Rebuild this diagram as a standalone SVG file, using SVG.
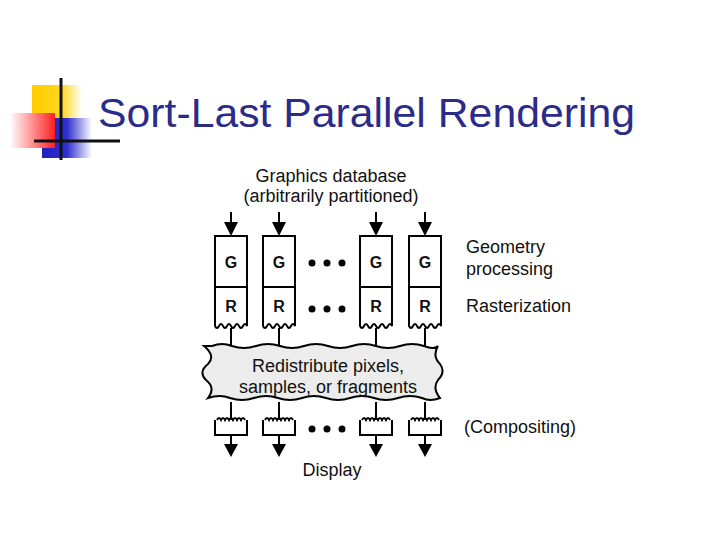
<svg xmlns="http://www.w3.org/2000/svg" width="720" height="540" viewBox="0 0 720 540">
<defs>
<linearGradient id="rg" x1="1" y1="0" x2="0" y2="0"><stop offset="0" stop-color="#ff2020"/><stop offset="1" stop-color="#ffffff"/></linearGradient>
<linearGradient id="bg" x1="0" y1="0" x2="1" y2="0"><stop offset="0" stop-color="#2020c0"/><stop offset="0.5" stop-color="#3030d0"/><stop offset="1" stop-color="#ffffff"/></linearGradient>
<linearGradient id="yg" x1="0" y1="0" x2="1" y2="0"><stop offset="0" stop-color="#ffcc00"/><stop offset="0.6" stop-color="#ffd820"/><stop offset="1" stop-color="#ffffff"/></linearGradient>
</defs>
<style>
.t{font-family:"Liberation Sans",Arial,sans-serif;fill:#111;font-size:18px}
.b{font-family:"Liberation Sans",Arial,sans-serif;font-weight:bold;fill:#111;font-size:16px;text-anchor:middle}
.box{fill:#fff;stroke:#000;stroke-width:2}
.ln{stroke:#000;stroke-width:2;fill:none}
.ar{fill:#000}
</style>
<g id="logo">
<rect x="32" y="85" width="50" height="45" fill="url(#yg)"/>
<rect x="42" y="118" width="50" height="40" fill="url(#bg)"/>
<rect x="10" y="113" width="45" height="35" fill="url(#rg)"/>
<line x1="61" y1="78" x2="61" y2="160" stroke="#111" stroke-width="3"/>
<line x1="34" y1="141" x2="120" y2="141" stroke="#111" stroke-width="3"/>
</g>
<text id="title" x="98" y="127" font-family="'Liberation Sans',Arial,sans-serif" font-size="40" textLength="537" lengthAdjust="spacingAndGlyphs" fill="#2b2b8a">Sort-Last Parallel Rendering</text>
<g id="labels">
<text class="t" x="331" y="182" text-anchor="middle">Graphics database</text>
<text class="t" x="331" y="202" text-anchor="middle">(arbitrarily partitioned)</text>
<text class="t" x="466" y="253">Geometry</text>
<text class="t" x="466" y="275">processing</text>
<text class="t" x="466" y="312">Rasterization</text>
<text class="t" x="464" y="433">(Compositing)</text>
<text class="t" x="332" y="476" text-anchor="middle">Display</text>
</g>
<g id="connectors">
<g class="ar">
<path d="M231,212 V224" class="ln"/><path d="M224,222 h14 l-7,14 z"/>
<path d="M279,212 V224" class="ln"/><path d="M272,222 h14 l-7,14 z"/>
<path d="M376,212 V224" class="ln"/><path d="M369,222 h14 l-7,14 z"/>
<path d="M425,212 V224" class="ln"/><path d="M418,222 h14 l-7,14 z"/>
</g>
<path class="ln" d="M231,328 V346 M279,328 V346 M376,328 V346 M425,328 V346"/>
<path class="ln" d="M231,402 V420 M279,402 V420 M376,402 V420 M425,402 V420"/>
<g class="ar">
<path class="ln" d="M231,434 V446"/><path d="M224,444 h14 l-7,13 z"/>
<path class="ln" d="M279,434 V446"/><path d="M272,444 h14 l-7,13 z"/>
<path class="ln" d="M376,434 V446"/><path d="M369,444 h14 l-7,13 z"/>
<path class="ln" d="M425,434 V446"/><path d="M418,444 h14 l-7,13 z"/>
</g>
</g>
<g id="pipelines">
<g id="p1"><rect class="box" x="215" y="236" width="32" height="51"/><text class="b" x="231" y="268">G</text>
<path class="box" d="M215,287 H247 V326 q-2,-4 -4,0 q-2,4 -4,0 q-2,-4 -4,0 q-2,4 -4,0 q-2,-4 -4,0 q-2,4 -4,0 q-2,-4 -4,0 q-2,4 -4,0 Z"/><text class="b" x="231" y="312">R</text></g>
<g id="p2"><rect class="box" x="263" y="236" width="32" height="51"/><text class="b" x="279" y="268">G</text>
<path class="box" d="M263,287 H295 V326 q-2,-4 -4,0 q-2,4 -4,0 q-2,-4 -4,0 q-2,4 -4,0 q-2,-4 -4,0 q-2,4 -4,0 q-2,-4 -4,0 q-2,4 -4,0 Z"/><text class="b" x="279" y="312">R</text></g>
<g id="p3"><rect class="box" x="360" y="236" width="32" height="51"/><text class="b" x="376" y="268">G</text>
<path class="box" d="M360,287 H392 V326 q-2,-4 -4,0 q-2,4 -4,0 q-2,-4 -4,0 q-2,4 -4,0 q-2,-4 -4,0 q-2,4 -4,0 q-2,-4 -4,0 q-2,4 -4,0 Z"/><text class="b" x="376" y="312">R</text></g>
<g id="p4"><rect class="box" x="409" y="236" width="32" height="51"/><text class="b" x="425" y="268">G</text>
<path class="box" d="M409,287 H441 V326 q-2,-4 -4,0 q-2,4 -4,0 q-2,-4 -4,0 q-2,4 -4,0 q-2,-4 -4,0 q-2,4 -4,0 q-2,-4 -4,0 q-2,4 -4,0 Z"/><text class="b" x="425" y="312">R</text></g>
<g id="dots" fill="#000"><circle cx="312" cy="263" r="3.5"/><circle cx="327" cy="263" r="3.5"/><circle cx="342" cy="263" r="3.5"/>
<circle cx="312" cy="309" r="3.5"/><circle cx="327" cy="309" r="3.5"/><circle cx="342" cy="309" r="3.5"/>
<circle cx="312" cy="429" r="3.5"/><circle cx="327" cy="429" r="3.5"/><circle cx="342" cy="429" r="3.5"/></g>
</g>
<g id="cloud">
<path d="M212,346 q10,-4 20,0 q12,4 24,0 q12,-4 24,0 q12,4 24,0 q12,-4 24,0 q12,4 24,0 q12,-4 24,0 q12,4 24,0 q12,-4 24,0 q10,4 14,0 q-6,10 2,18 q6,8 -2,16 q-6,8 2,18 q-10,4 -18,0 q-12,-4 -24,0 q-12,4 -24,0 q-12,-4 -24,0 q-12,4 -24,0 q-12,-4 -24,0 q-12,4 -24,0 q-12,-4 -24,0 q-12,4 -24,0 q-10,-4 -22,0 q8,-10 -2,-18 q-8,-8 2,-16 q8,-8 -4,-18 z" fill="#ececec" stroke="#000" stroke-width="2"/>
<text class="t" x="328" y="372" text-anchor="middle">Redistribute pixels,</text>
<text class="t" x="328" y="393" text-anchor="middle">samples, or fragments</text>
</g>
<g id="compositors" class="ln">
<path d="M215,420 V435 H247 V420 M217,420 q2,-4 4,0 q2,-4 4,0 q2,-4 4,0 q2,-4 4,0 q2,-4 4,0 q2,-4 4,0 q2,-4 4,0"/>
<path d="M263,420 V435 H295 V420 M265,420 q2,-4 4,0 q2,-4 4,0 q2,-4 4,0 q2,-4 4,0 q2,-4 4,0 q2,-4 4,0 q2,-4 4,0"/>
<path d="M360,420 V435 H392 V420 M362,420 q2,-4 4,0 q2,-4 4,0 q2,-4 4,0 q2,-4 4,0 q2,-4 4,0 q2,-4 4,0 q2,-4 4,0"/>
<path d="M409,420 V435 H441 V420 M411,420 q2,-4 4,0 q2,-4 4,0 q2,-4 4,0 q2,-4 4,0 q2,-4 4,0 q2,-4 4,0 q2,-4 4,0"/>
</g>
</svg>
